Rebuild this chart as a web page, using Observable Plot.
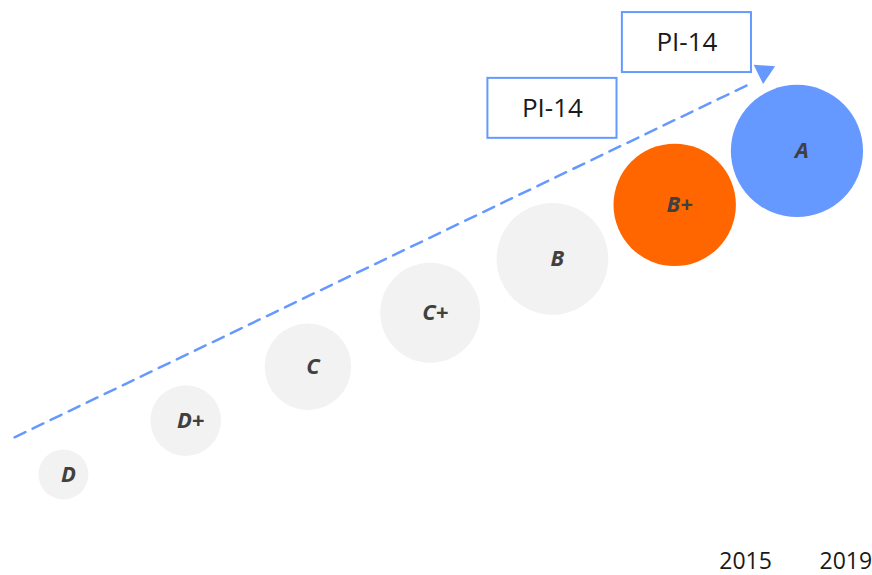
<!DOCTYPE html>
<html>
<head>
<meta charset="utf-8">
<script src="https://cdn.jsdelivr.net/npm/d3@7"></script>
<script src="https://cdn.jsdelivr.net/npm/@observablehq/plot@0.6"></script>
<style>
  html, body { margin: 0; padding: 0; background: #fff; }
  #chart svg { display: block; }
</style>
</head>
<body>
<div id="chart"></div>
<script>
// Grades along the maturity path (step index drives position and size)
const grades = ["D", "D+", "C", "C+", "B", "B+", "A"];
const steps = [1, 2, 3, 4, 5, 6, 7];
const gradeColors = ["#f2f2f2", "#f2f2f2", "#f2f2f2", "#f2f2f2", "#f2f2f2", "#ff6600", "#6699ff"];

// Year labels along the bottom (position in step units)
const yearLabels = ["2015", "2019"];
const yearSteps = [6.58, 7.40];

// "PI-14" callouts (center in step units)
const calloutLabels = ["PI-14", "PI-14"];
const calloutX = [5.0, 6.1];
const calloutY = [7.79, 9.01];

// Trend arrow (start and tip in step units)
const trendX = [0.6, 6.64];
const trendY = [1.69, 8.27];
const tipX = 6.73;
const tipY = 8.47;

const dots = grades.map((g, i) => ({grade: g, step: steps[i], color: gradeColors[i]}));
const years = yearLabels.map((t, i) => ({label: t, x: yearSteps[i]}));
const callouts = calloutLabels.map((t, i) => ({label: t, x: calloutX[i], y: calloutY[i]}));
const trend = trendX.map((x, i) => ({x, y: trendY[i]}));

const halfW = 0.528, halfH = 0.556;

const chart = Plot.plot({
  width: 872,
  height: 575,
  margin: 0,
  x: {domain: [0.485, 7.618], axis: null},
  y: {domain: [-0.873, 9.79], axis: null},
  r: {type: "sqrt", domain: [0, 7], range: [0, 66.1]},
  style: {fontFamily: "'Open Sans', sans-serif", background: "#fff"},
  marks: [
    Plot.line(trend, {x: "x", y: "y", stroke: "#6699ff", strokeWidth: 2.5, strokeDasharray: "12,8"}),
    Plot.dot([{x: tipX, y: tipY}], {x: "x", y: "y", symbol: "triangle", r: 8, fill: "#6699ff", stroke: "none", rotate: 64}),
    Plot.rect(callouts, {x1: d => d.x - halfW, x2: d => d.x + halfW, y1: d => d.y - halfH, y2: d => d.y + halfH, fill: "#fff", stroke: "#6699ff", strokeWidth: 2}),
    Plot.text(callouts, {x: "x", y: "y", text: "label", fontSize: 26, fill: "#1a1a1a"}),
    Plot.dot(dots, {x: "step", y: "step", r: "step", fill: "color", stroke: "none"}),
    Plot.text(dots, {x: "step", y: "step", text: "grade", dx: 5, fontSize: 22, fontWeight: "bold", fontStyle: "italic", fill: "#404040"}),
    Plot.text(years, {x: "x", y: () => -0.61, text: "label", fontSize: 23, fill: "#1a1a1a"})
  ]
});
document.getElementById("chart").appendChild(chart);
</script>
</body>
</html>
